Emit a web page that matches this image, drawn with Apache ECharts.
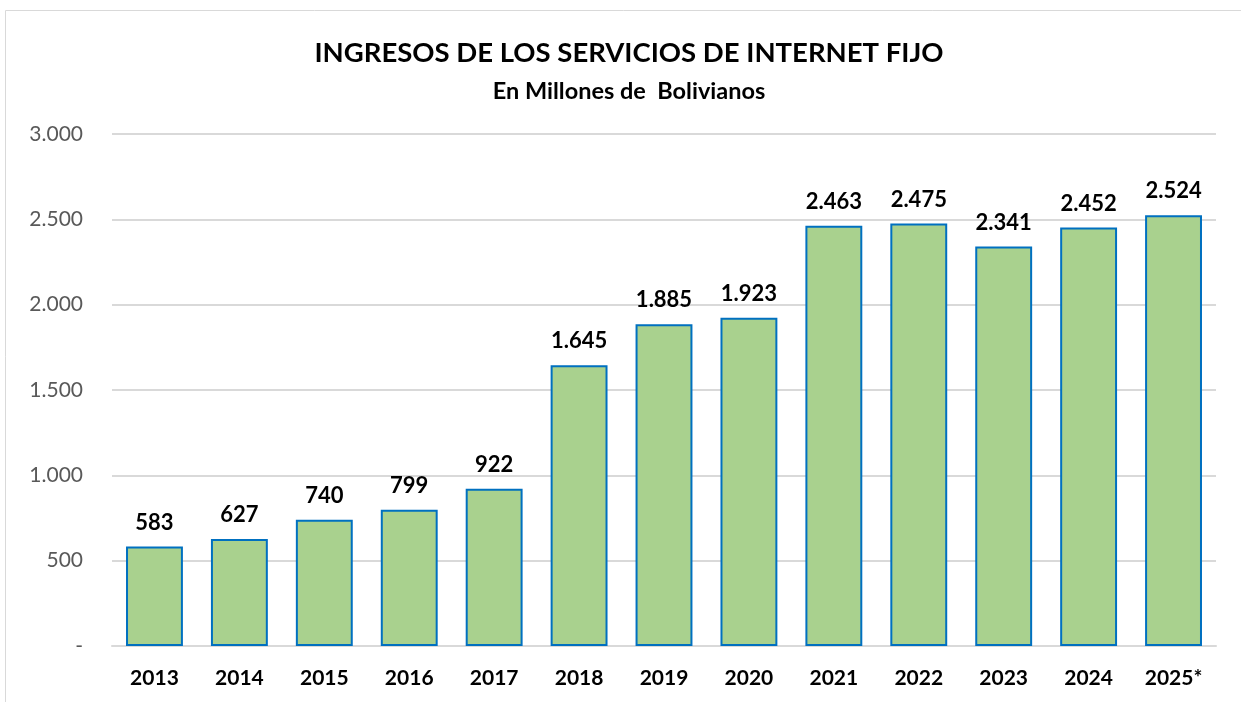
<!DOCTYPE html>
<html>
<head>
<meta charset="utf-8">
<title>Ingresos de los servicios de Internet fijo</title>
<script src="https://cdn.jsdelivr.net/npm/echarts@6/dist/echarts.min.js"></script>
<style>
  html, body { margin: 0; padding: 0; background: #fff; }
  #chart { width: 1241px; height: 702px; }
</style>
</head>
<body>
<div id="chart"></div>
<script>
// Data
const YEARS = ["2013", "2014", "2015", "2016", "2017", "2018", "2019",
               "2020", "2021", "2022", "2023", "2024", "2025*"];
const INGRESOS = [583, 627, 740, 799, 922, 1645, 1885, 1923, 2463, 2475, 2341, 2452, 2524];
const Y_MIN = 0, Y_MAX = 3000, Y_STEP = 500;

const FONT = "Lato, 'Open Sans', sans-serif";
const FILL = "#A9D18E";
const EDGE = "#0070C0";
const GRID = "#D9D9D9";

function fmt(v) {
  if (v === 0) return "-";
  return String(Math.round(v)).replace(/\B(?=(\d{3})+(?!\d))/g, ".");
}

const chart = echarts.init(document.getElementById("chart"), null, { renderer: "canvas" });

chart.setOption({
  animation: false,
  textStyle: { fontFamily: FONT },
  graphic: [{
    type: "rect",
    shape: { x: 5.5, y: 10.5, width: 1260, height: 720 },
    style: { fill: "none", stroke: "#D9D9D9", lineWidth: 1 },
    silent: true
  }],
  title: [
    {
      text: "INGRESOS DE LOS SERVICIOS DE INTERNET FIJO",
      left: 624, top: 34, textAlign: "center",
      textStyle: { fontFamily: FONT, fontSize: 27.5, fontWeight: "bold", color: "#000" }
    },
    {
      text: "En Millones de  Bolivianos",
      left: 624, top: 74, textAlign: "center",
      textStyle: { fontFamily: FONT, fontSize: 23.5, fontWeight: "bold", color: "#000" }
    }
  ],
  grid: { left: 112, right: 25, top: 134, bottom: 56, containLabel: false },
  xAxis: {
    type: "category",
    data: YEARS,
    axisLine: { lineStyle: { color: GRID, width: 2 } },
    axisTick: { show: false },
    axisLabel: { color: "#000", fontSize: 21, fontWeight: "bold", margin: 22, fontFamily: FONT }
  },
  yAxis: {
    type: "value",
    min: Y_MIN, max: Y_MAX, interval: Y_STEP,
    axisLine: { show: false },
    axisTick: { show: false },
    axisLabel: { color: "#595959", fontSize: 21, margin: 29, fontFamily: FONT, formatter: fmt },
    splitLine: { lineStyle: { color: GRID, width: 2 } }
  },
  series: [{
    type: "bar",
    data: INGRESOS,
    barCategoryGap: "33%",
    itemStyle: { color: FILL, borderColor: EDGE, borderWidth: 2 },
    label: {
      show: true, position: "top", distance: 13,
      color: "#000", fontSize: 22, fontWeight: "bold", fontFamily: FONT,
      formatter: (p) => fmt(p.value)
    }
  }]
});
</script>
</body>
</html>
